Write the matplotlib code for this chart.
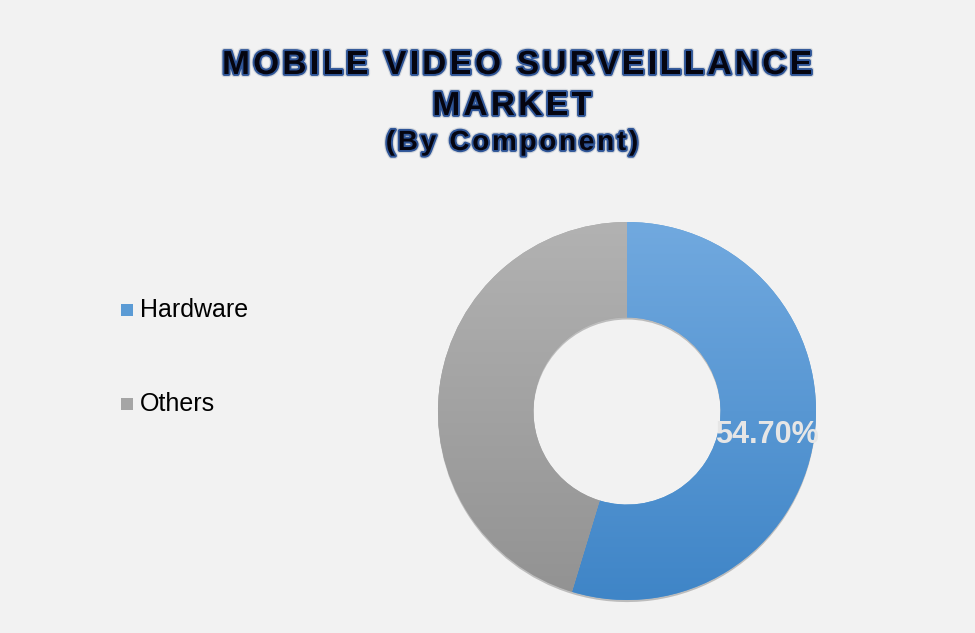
import matplotlib
matplotlib.use("Agg")
import matplotlib.pyplot as plt
import matplotlib.patheffects as pe
import numpy as np
from matplotlib.colors import LinearSegmentedColormap
from matplotlib.font_manager import FontProperties
from matplotlib.textpath import TextToPath

# Data
categories = ["Hardware", "Others"]
shares = [54.70, 45.30]

title_lines = ["MOBILE VIDEO SURVEILLANCE", "MARKET"]
subtitle = "(By Component)"

BG = "#F2F2F2"
top_colors = ["#71A9DF", "#B2B2B2"]
bot_colors = ["#3F85C7", "#929292"]
legend_colors = ["#5B9BD5", "#A5A5A5"]

W, H = 975, 633
fig = plt.figure(figsize=(W / 100, H / 100), dpi=100, facecolor=BG)

cx, cy, R = 627, 411, 189
ax = fig.add_axes([(cx - R) / W, (H - cy - R) / H, 2 * R / W, 2 * R / H])
ax.set_facecolor("none")
ax.axis("off")

width = 0.505
wedges, texts, autotexts = ax.pie(
    shares, startangle=90, counterclock=False, radius=1.0,
    colors=legend_colors, autopct=lambda p: f"{p:.2f}%" if p > 50 else "",
    pctdistance=0.745, wedgeprops=dict(width=width, linewidth=0))

for w in wedges:
    w.set_clip_on(False)
    w.set_path_effects([pe.SimplePatchShadow(offset=(0, -1.5), shadow_rgbFace="#000000", alpha=0.22),
                        pe.Normal()])

# gradient fill clipped to wedges
for w, c0, c1 in zip(wedges, top_colors, bot_colors):
    cmap = LinearSegmentedColormap.from_list("g", [c1, c0])
    grad = np.linspace(0, 1, 256).reshape(-1, 1)
    im = ax.imshow(grad, extent=[-1, 1, -1, 1], origin="lower", cmap=cmap,
                   aspect="auto", zorder=w.get_zorder() + 0.1)
    im.set_clip_path(w)

for t in autotexts:
    x, y = t.get_position()
    t.set_position((x + 0.005, y - 0.02))
    t.set_color("#E6E6E6")
    t.set_fontsize(22)
    t.set_fontweight("bold")
    t.set_fontfamily("Liberation Sans")
    t.set_zorder(10)

ax.set_xlim(-1, 1)
ax.set_ylim(-1, 1)
ax.set_aspect("equal")

# Letter-spaced title text
t2p = TextToPath()


def spaced_text(s, xc, yc, size, spacing_px):
    prop = FontProperties(family="Liberation Sans", weight="bold", size=size)
    scale = 100 / 72.0
    widths = [0.0]
    for i in range(1, len(s) + 1):
        w_, _, _ = t2p.get_text_width_height_descent(s[:i], prop, ismath=False)
        widths.append(w_ * scale)
    total = widths[-1] + spacing_px * (len(s) - 1)
    x0 = xc - total / 2
    for i, ch in enumerate(s):
        if ch == " ":
            continue
        xp = x0 + widths[i] + spacing_px * i
        fig.text(xp / W, 1 - yc / H, ch, ha="left", va="center_baseline",
                 fontproperties=prop, color="#050510",
                 path_effects=[pe.Stroke(linewidth=4.5, foreground="#9AA5B5", alpha=0.35),
                               pe.Stroke(linewidth=2.8, foreground="#2F5597"),
                               pe.Normal()])


spaced_text(title_lines[0], 517, 62, 24, 3.3)
spaced_text(title_lines[1], 512, 103, 24, 3.3)
spaced_text(subtitle, 512, 140, 20, 2.8)

# Legend
leg_y = [310, 404]
for cat, col, y in zip(categories, legend_colors, leg_y):
    fig.patches.append(plt.Rectangle((121 / W, 1 - (y + 6) / H), 12 / W, 12 / H,
                                     transform=fig.transFigure, facecolor=col,
                                     edgecolor="none"))
    fig.text(140 / W, 1 - y / H, cat, ha="left", va="center", fontsize=18,
             family="Liberation Sans", color="#000000")

fig.savefig("out.png", dpi=100, facecolor=BG)
